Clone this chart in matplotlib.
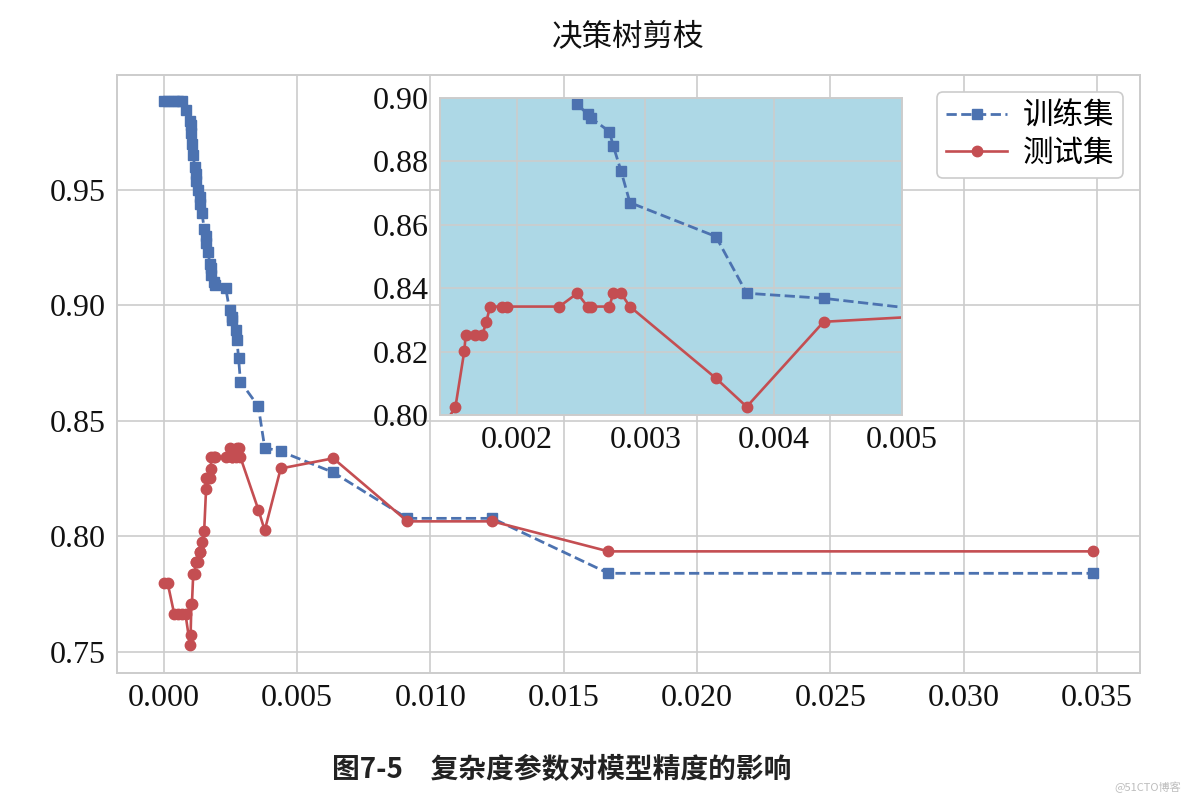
import matplotlib
matplotlib.use("Agg")
import matplotlib.pyplot as plt
from matplotlib.ticker import FormatStrFormatter

# ---- data ----
alphas = [0.00000, 0.00015, 0.00040, 0.00055, 0.00070, 0.00082, 0.00099, 0.00101,
          0.00104, 0.00106, 0.00111, 0.00116, 0.00120, 0.00123, 0.00130, 0.00135,
          0.00138, 0.00144, 0.00152, 0.00159, 0.00160, 0.00167, 0.00173, 0.00176,
          0.00179, 0.00188, 0.00192, 0.00233, 0.00247, 0.00255, 0.00258, 0.00272,
          0.00275, 0.00281, 0.00288, 0.00355, 0.00379, 0.00439, 0.00636, 0.00914,
          0.01233, 0.01668, 0.03486]
train_acc = [0.9885, 0.9885, 0.9885, 0.9885, 0.9885, 0.9846, 0.9800, 0.9780,
             0.9745, 0.9700, 0.9650, 0.9600, 0.9570, 0.9540, 0.9500, 0.9470,
             0.9440, 0.9400, 0.9330, 0.9300, 0.9270, 0.9230, 0.9180, 0.9160,
             0.9130, 0.9100, 0.9090, 0.9075, 0.8980, 0.8949, 0.8936, 0.8894,
             0.8849, 0.8771, 0.8670, 0.8563, 0.8384, 0.8368, 0.8277, 0.8078,
             0.8078, 0.7840, 0.7840]
test_acc = [0.7798, 0.7798, 0.7662, 0.7662, 0.7662, 0.7662, 0.7528, 0.7571,
            0.7706, 0.7706, 0.7838, 0.7838, 0.7889, 0.7889, 0.7889, 0.7932,
            0.7932, 0.7975, 0.8024, 0.8203, 0.8252, 0.8252, 0.8252, 0.8292,
            0.8342, 0.8342, 0.8342, 0.8342, 0.8384, 0.8342, 0.8342, 0.8342,
            0.8384, 0.8384, 0.8342, 0.8116, 0.8026, 0.8294, 0.8338, 0.8065,
            0.8065, 0.7935, 0.7935]

series_labels = ["训练集", "测试集"]
title_text = "决策树剪枝"
caption_text = "图7-5\u3000复杂度参数对模型精度的影响"
main_yticks = [0.75, 0.80, 0.85, 0.90, 0.95]
main_xticks = [0.000, 0.005, 0.010, 0.015, 0.020, 0.025, 0.030, 0.035]
inset_xticks = [0.002, 0.003, 0.004, 0.005]
inset_yticks = [0.80, 0.82, 0.84, 0.86, 0.88, 0.90]

# ---- style ----
BLUE = "#4C72B0"
RED = "#C44E52"
GRID = "#cccccc"
plt.rcParams["font.family"] = ["Liberation Serif", "Noto Sans CJK SC", "DejaVu Sans"]
plt.rcParams["axes.unicode_minus"] = False

fig = plt.figure(figsize=(11.84, 8.01), dpi=100)
ax = fig.add_axes([0.0988, 0.160, 0.8640, 0.7464])


def style_axes(a):
    a.grid(True, color=GRID, linewidth=1.2)
    a.set_axisbelow(True)
    for s in a.spines.values():
        s.set_color(GRID)
        s.set_linewidth(1.4)
    a.tick_params(length=0, labelsize=23, pad=8, colors="#111111")


def draw(a):
    a.plot(alphas, train_acc, linestyle="--", marker="s", color=BLUE,
           markersize=7.3, linewidth=2.0, label=series_labels[0])
    a.plot(alphas, test_acc, linestyle="-", marker="o", color=RED,
           markersize=7.5, linewidth=1.9, label=series_labels[1])


draw(ax)
style_axes(ax)
ax.set_xticks(main_xticks)
ax.set_yticks(main_yticks)
ax.xaxis.set_major_formatter(FormatStrFormatter("%.3f"))
ax.yaxis.set_major_formatter(FormatStrFormatter("%.2f"))
ax.set_xlim(-0.00175, 0.03661)
ax.set_ylim(0.7409, 0.9998)

leg = ax.legend(loc="upper right", prop={"family": ["Noto Sans CJK SC"], "size": 22},
                frameon=True, fancybox=True, framealpha=1.0, borderpad=0.3,
                handlelength=2.0, handletextpad=0.5, labelspacing=0.2,
                borderaxespad=0.55)
leg.get_frame().set_edgecolor(GRID)
leg.get_frame().set_linewidth(1.2)

# inset
axin = fig.add_axes([0.3716, 0.4819, 0.3902, 0.3958])
axin.set_facecolor("#ADD8E6")
draw(axin)
style_axes(axin)
axin.set_xlim(0.0014, 0.005)
axin.set_ylim(0.80, 0.90)
axin.set_xticks(inset_xticks)
axin.set_yticks(inset_yticks)
axin.xaxis.set_major_formatter(FormatStrFormatter("%.3f"))
axin.yaxis.set_major_formatter(FormatStrFormatter("%.2f"))

fig.text(0.5308, 1 - 37 / 801, title_text, ha="center", va="center",
         fontsize=22, family=["Noto Sans CJK SC"], color="#111111")
fig.text(0.4747, 1 - 770 / 801, caption_text, ha="center", va="center",
         fontsize=20, family=["Noto Sans CJK SC"], weight="bold", color="#222222")
fig.text(0.969, 1 - 787 / 801, "@51CTO博客", ha="center", va="center",
         fontsize=8, family=["Noto Sans CJK SC"], color="#bdbdbd")

fig.savefig("out.png", dpi=100, facecolor="white")
